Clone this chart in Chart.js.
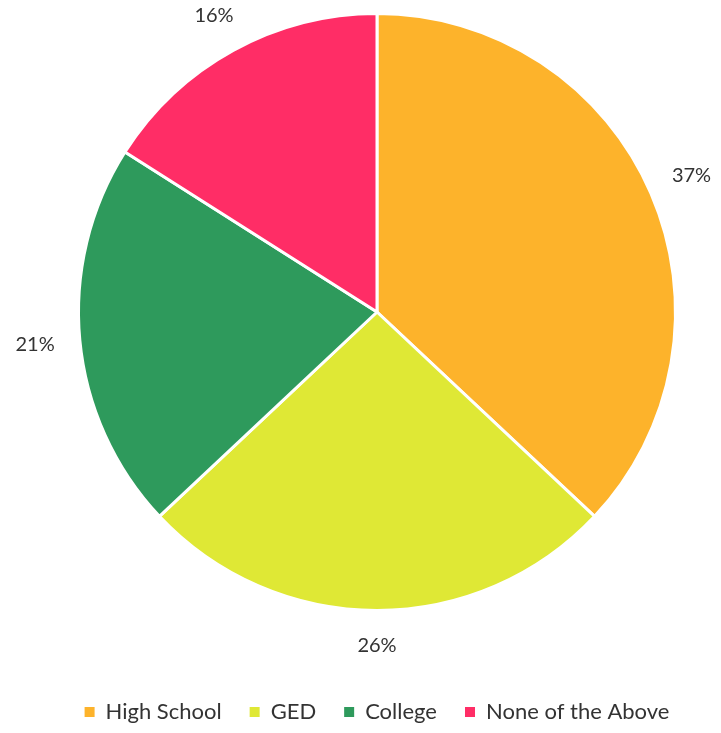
<!DOCTYPE html>
<html>
<head>
<meta charset="utf-8">
<script src="https://cdn.jsdelivr.net/npm/chart.js@4"></script>
<style>
  html, body { margin: 0; padding: 0; background: #fff; }
  #wrap { width: 721px; height: 733px; }
</style>
</head>
<body>
<div id="wrap"><canvas id="pie"></canvas></div>
<script>
const categories = ["High School", "GED", "College", "None of the Above"];
const shares = [37, 26, 21, 16];
const sliceColors = ["#FDB32B", "#DFE835", "#2E9A5C", "#FF2D66"];

// percent labels drawn just outside each slice
const outsideLabels = {
  id: "outsideLabels",
  afterDatasetsDraw(chart) {
    const ctx = chart.ctx;
    const meta = chart.getDatasetMeta(0);
    ctx.save();
    ctx.font = "20px Lato";
    ctx.fillStyle = "#333";
    ctx.textAlign = "center";
    ctx.textBaseline = "middle";
    meta.data.forEach((arc, i) => {
      const mid = (arc.startAngle + arc.endAngle) / 2;
      const fromTop = mid + Math.PI / 2; // clockwise from 12 o'clock
      const r = arc.outerRadius + 35 + 10 * Math.abs(Math.sin(fromTop));
      const x = arc.x + Math.cos(mid) * r;
      const y = arc.y + Math.sin(mid) * r;
      ctx.fillText(shares[i] + "%", x, y);
    });
    ctx.restore();
  }
};

const ctx = document.getElementById("pie").getContext("2d");
new Chart(ctx, {
  type: "pie",
  data: {
    labels: categories,
    datasets: [{
      data: shares,
      backgroundColor: sliceColors,
      borderColor: "#fff",
      borderWidth: 3
    }]
  },
  options: {
    responsive: true,
    maintainAspectRatio: false,
    animation: false,
    layout: { padding: { top: 12, left: 33, right: 0, bottom: 0 } },
    plugins: {
      tooltip: { enabled: false },
      legend: {
        position: "bottom",
        // empty title only used to push the legend row down
        title: { display: true, text: " ", font: { size: 10 }, padding: { top: 49, bottom: 0 } },
        labels: {
          boxWidth: 10,
          boxHeight: 10,
          padding: 28,
          color: "#333",
          font: { family: "Lato", size: 22 },
          generateLabels: (chart) => categories.map((c, i) => ({
            text: c,
            fillStyle: sliceColors[i],
            strokeStyle: sliceColors[i],
            lineWidth: 0,
            fontColor: "#333",
            hidden: false,
            index: i
          }))
        }
      }
    }
  },
  plugins: [outsideLabels]
});
</script>
</body>
</html>
